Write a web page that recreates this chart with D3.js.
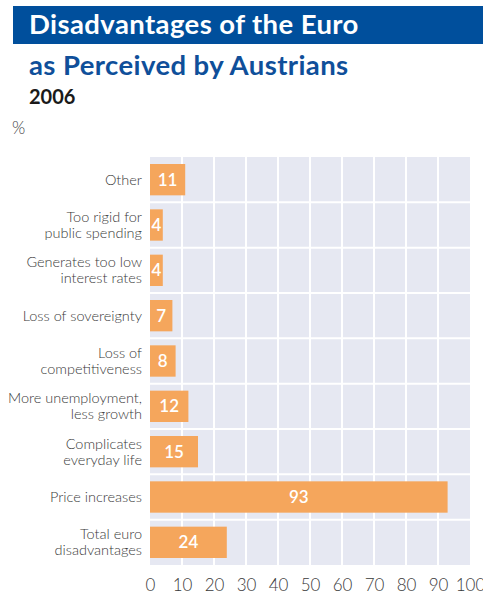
<!DOCTYPE html>
<html>
<head>
<meta charset="utf-8">
<script src="https://cdn.jsdelivr.net/npm/d3@7"></script>
<style>
  html, body { margin: 0; padding: 0; background: #fff; }
  svg { display: block; }
</style>
</head>
<body>
<svg id="chart" width="483" height="596"></svg>
<script>
// Reasons given, listed top to bottom; each label may span two lines
const categories = [
  ["Other"],
  ["Too rigid for", "public spending"],
  ["Generates too low", "interest rates"],
  ["Loss of sovereignty"],
  ["Loss of", "competitiveness"],
  ["More unemployment,", "less growth"],
  ["Complicates", "everyday life"],
  ["Price increases"],
  ["Total euro", "disadvantages"]
];
const values = [11, 4, 4, 7, 8, 12, 15, 93, 24];
const xTicks = [0, 10, 20, 30, 40, 50, 60, 70, 80, 90, 100];

const titleText = "Disadvantages of the Euro";
const subtitleText = "as Perceived by Austrians";
const yearText = "2006";
const unitText = "%";

const svg = d3.select("#chart");
const font = "'Lato', 'Open Sans', sans-serif";

// Header
svg.append("rect").attr("x", 13).attr("y", 6).attr("width", 470).attr("height", 38)
  .attr("fill", "#004f9c");
svg.append("text").attr("x", 29).attr("y", 34).text(titleText)
  .attr("fill", "#fff").attr("font-family", font).attr("font-weight", 700)
  .attr("font-size", 27.5).attr("letter-spacing", 0.4);
svg.append("text").attr("x", 29).attr("y", 75).text(subtitleText)
  .attr("fill", "#0f4f9a").attr("font-family", font).attr("font-weight", 700)
  .attr("font-size", 27.5).attr("letter-spacing", 0.4);
svg.append("text").attr("x", 29).attr("y", 104).text(yearText)
  .attr("fill", "#1a1a1a").attr("font-family", font).attr("font-weight", 700).attr("font-size", 20);
svg.append("text").attr("x", 12).attr("y", 134).text(unitText)
  .attr("fill", "#444").attr("font-family", font).attr("font-weight", 300).attr("font-size", 17);

// Plot area
const plotLeft = 150, plotRight = 470, plotTop = 157, plotBottom = 565;
const x = d3.scaleLinear().domain([0, 100]).range([plotLeft, plotRight]);
const y = d3.scaleBand().domain(d3.range(categories.length)).range([plotTop, plotBottom]);
const barPad = 7;

svg.append("rect").attr("x", plotLeft).attr("y", plotTop)
  .attr("width", plotRight - plotLeft).attr("height", plotBottom - plotTop)
  .attr("fill", "#e6e8f2");

// Vertical grid lines
svg.append("g").selectAll("line").data(xTicks.slice(1, -1)).join("line")
  .attr("x1", d => x(d)).attr("x2", d => x(d)).attr("y1", plotTop).attr("y2", plotBottom)
  .attr("stroke", "#fff").attr("stroke-width", 2);

// Horizontal separators between rows
svg.append("g").selectAll("line").data(d3.range(1, categories.length)).join("line")
  .attr("x1", plotLeft).attr("x2", plotRight).attr("y1", d => y(d)).attr("y2", d => y(d))
  .attr("stroke", "#fff").attr("stroke-width", 2);

// Bars
svg.append("g").selectAll("rect").data(values).join("rect")
  .attr("x", x(0)).attr("y", (d, i) => y(i) + barPad)
  .attr("width", d => x(d) - x(0)).attr("height", y.bandwidth() - 2 * barPad)
  .attr("fill", "#f5a65c");

// Value labels inside the bars
svg.append("g").selectAll("text").data(values).join("text")
  .attr("x", d => (x(0) + x(d)) / 2).attr("y", (d, i) => y(i) + y.bandwidth() / 2 + 6)
  .attr("text-anchor", "middle").attr("fill", "#fff")
  .attr("font-family", font).attr("font-weight", 600).attr("font-size", 17)
  .text(d => d);

// Category labels
const labels = svg.append("g").selectAll("text").data(categories).join("text")
  .attr("text-anchor", "end").attr("fill", "#3a3a3a")
  .attr("font-family", font).attr("font-weight", 300).attr("font-size", 14.5);
labels.each(function(lines, i) {
  const cy = y(i) + y.bandwidth() / 2;
  const lh = 16;
  const start = cy - (lines.length - 1) * lh / 2 + 5;
  d3.select(this).selectAll("tspan").data(lines).join("tspan")
    .attr("x", 142).attr("y", (d, k) => start + k * lh).text(d => d);
});

// X axis
const axis = d3.axisBottom(x).tickValues(xTicks).tickSize(0).tickPadding(0);
const gx = svg.append("g").attr("transform", `translate(0, ${plotBottom + 11})`).call(axis);
gx.select(".domain").remove();
gx.selectAll("text").attr("font-family", font).attr("font-weight", 300)
  .attr("font-size", 17).attr("fill", "#3a3a3a").attr("dy", "0.9em");
</script>
</body>
</html>
